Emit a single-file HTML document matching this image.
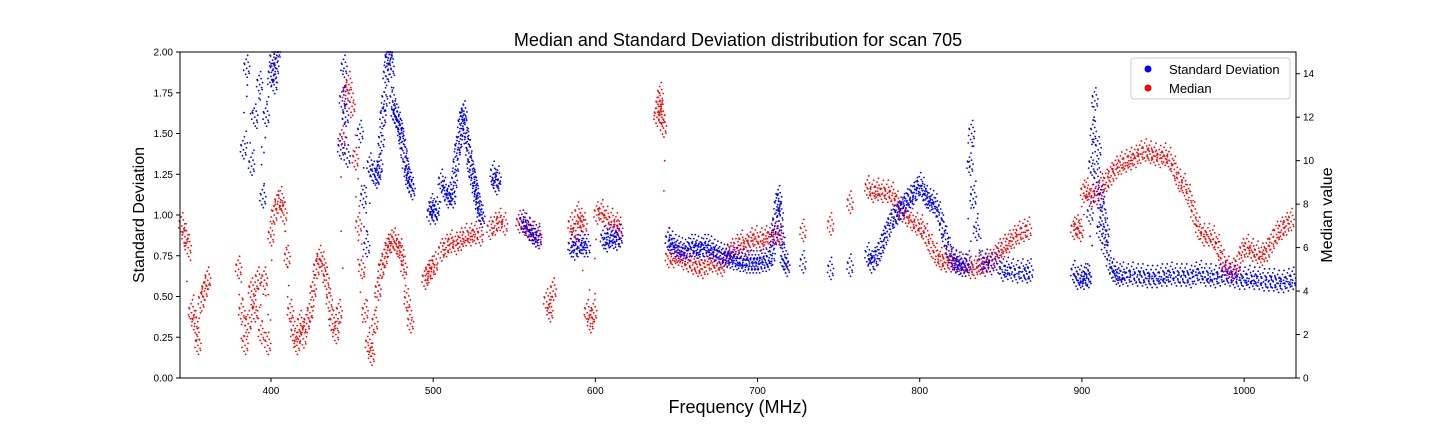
<!DOCTYPE html>
<html><head><meta charset="utf-8"><style>
body{margin:0;background:#fff;}
svg text{font-family:"Liberation Sans",sans-serif;}
</style></head><body>
<svg id="chart" width="1440" height="432" xmlns="http://www.w3.org/2000/svg">
<rect width="1440" height="432" fill="#fff"/>
<text x="738" y="46" font-size="18" text-anchor="middle">Median and Standard Deviation distribution for scan 705</text>
<text x="738" y="413" font-size="18" text-anchor="middle">Frequency (MHz)</text>
<text transform="translate(144,215) rotate(-90)" font-size="16" text-anchor="middle">Standard Deviation</text>
<text transform="translate(1332,215) rotate(-90)" font-size="16" text-anchor="middle">Median value</text>
<g id="marks"></g>
<g id="axes"></g>
<g>
<rect x="1131" y="58" width="159" height="41" rx="3" fill="#fff" fill-opacity="0.8" stroke="#ccc"/>
<circle cx="1148" cy="69" r="3.5" fill="#0000ff"/>
<text x="1169" y="74" font-size="13">Standard Deviation</text>
<circle cx="1148" cy="88" r="3.5" fill="#ff0000"/>
<text x="1169" y="93" font-size="13">Median</text>
</g>
</svg>
<script>
const xTicks=[400,500,600,700,800,900,1000];
const yLeftTicks=[0,0.25,0.5,0.75,1,1.25,1.5,1.75,2];
const yRightTicks=[0,2,4,6,8,10,12,14];
const stdFreq=[383,385,388,390,393,395,397,400,401,402,403,404,443,444,445,446,447,455,457,459,461,463,465,466,467,468,469,470,471,472,473,474,475,476,477,478,479,480,481,482,483,484,485,486,487,498,499,500,501,502,505,507,509,510,512,513,514,515,516,517,518,519,520,521,522,523,524,525,526,527,528,529,530,537,538,539,540,555,557,559,561,563,565,585,587,589,591,593,595,605,607,609,611,613,615,645,647,649,651,653,655,657,659,661,663,665,667,669,671,673,675,677,679,681,683,685,687,689,691,693,695,697,699,701,703,705,707,709,710,711,712,713,714,715,716,717,718,728,745,757,768,770,772,774,776,778,780,782,784,786,788,790,792,794,796,798,800,802,804,806,808,810,812,814,816,818,820,822,824,826,828,830,831,832,833,835,838,841,844,848,851,854,857,860,863,866,868,895,897,899,901,903,904,905,906,907,908,909,910,911,912,913,914,915,917,919,921,923,925,928,931,934,937,940,943,946,949,952,955,958,961,964,967,970,973,976,979,982,985,988,991,994,997,1000,1003,1006,1009,1012,1015,1018,1021,1024,1027,1030];
const stdVal=[1.4,1.9,1.3,1.6,1.8,1.1,1.6,1.85,1.95,1.8,1.9,2.0,1.4,1.7,1.9,1.6,1.35,1.5,1.1,0.8,1.3,1.25,1.22,1.25,1.3,1.45,1.6,1.7,1.85,1.95,2.0,1.9,1.7,1.62,1.6,1.58,1.55,1.5,1.45,1.38,1.3,1.25,1.2,1.18,1.15,1.0,1.05,1.02,1.0,1.03,1.2,1.15,1.1,1.12,1.1,1.2,1.3,1.4,1.45,1.55,1.6,1.62,1.5,1.45,1.38,1.3,1.25,1.2,1.15,1.1,1.05,1.0,0.98,1.25,1.2,1.18,1.22,0.95,0.93,0.9,0.88,0.86,0.85,0.8,0.78,0.8,0.82,0.8,0.8,0.85,0.83,0.86,0.85,0.84,0.86,0.84,0.82,0.8,0.79,0.78,0.77,0.78,0.8,0.8,0.79,0.78,0.8,0.8,0.79,0.77,0.76,0.75,0.74,0.74,0.73,0.72,0.72,0.71,0.71,0.7,0.7,0.7,0.7,0.7,0.71,0.71,0.72,0.75,0.85,0.95,1.05,1.1,1.0,0.85,0.72,0.7,0.68,0.7,0.66,0.68,0.75,0.7,0.72,0.75,0.8,0.85,0.9,0.95,0.98,1.0,1.03,1.05,1.08,1.1,1.12,1.15,1.18,1.15,1.1,1.08,1.07,1.05,1.0,0.92,0.85,0.78,0.72,0.7,0.69,0.68,0.68,0.7,1.3,1.5,1.1,0.9,0.7,0.71,0.69,0.7,0.65,0.66,0.65,0.64,0.65,0.64,0.65,0.64,0.6,0.61,0.6,0.62,0.61,1.0,1.3,1.5,1.7,1.2,1.4,0.9,1.1,1.0,0.8,0.9,0.7,0.65,0.63,0.62,0.63,0.62,0.63,0.62,0.62,0.61,0.61,0.61,0.62,0.62,0.63,0.62,0.62,0.62,0.61,0.63,0.64,0.62,0.62,0.61,0.62,0.63,0.62,0.61,0.6,0.6,0.61,0.6,0.6,0.59,0.59,0.59,0.58,0.58,0.59,0.6];
const medFreq=[345,347,349,351,353,355,357,359,361,380,382,384,386,388,390,392,394,396,398,400,402,404,406,408,410,412,414,416,418,420,422,424,426,428,430,432,434,436,438,440,442,444,446,448,450,452,454,456,458,460,462,464,466,468,470,472,474,476,478,480,482,484,486,495,497,499,501,505,508,511,514,517,520,523,526,529,535,538,541,544,553,556,559,562,565,570,572,574,585,587,589,591,593,595,597,599,601,604,607,610,613,615,638,639,640,641,642,645,648,651,654,657,660,663,666,669,672,675,678,681,684,687,690,693,696,699,702,705,708,711,714,728,745,757,768,771,774,777,780,783,786,789,792,795,798,801,804,807,810,813,816,819,822,825,828,831,834,837,840,843,846,849,852,855,858,861,864,867,895,897,899,901,903,906,909,912,915,918,921,924,927,930,933,936,939,942,945,948,951,954,957,960,963,966,969,972,975,978,981,984,987,990,993,996,999,1002,1005,1008,1011,1014,1017,1020,1023,1026,1029];
const medVal=[7,6.5,6,3,2.5,1.5,3.5,4,4.5,5,3,1.5,2.5,4,3,4.5,2,4.5,1.5,6.5,7.5,8,8.2,7.5,5.5,3,2,1.5,2.5,1.8,2.5,3,4,5,5.5,5.2,4.5,3.5,2.5,2,3,11,13,13.5,12.5,10,7,5,3,1.5,1,2.5,4,5,5.5,6,6.2,6.3,6,5.8,5,3.5,2.5,4.5,4.8,5,5.2,5.8,6,6.2,6.1,6.3,6.5,6.5,6.6,6.5,6.8,7,7.2,7,7.1,7,6.8,6.6,6.5,3.5,3,4,7,6.5,7.5,7.2,7,3,2.5,3,7.5,7.6,7.3,7.2,7,6.8,12,12.5,13,12,11.5,5.5,5.5,5.6,5.4,5.3,5.2,5.1,5,5.2,5.3,5.2,5.1,5.5,5.8,6,6.2,6,6.3,6.4,6.3,6.4,6.5,6.6,6.4,6.7,7,8,8.7,8.5,8.6,8.5,8.5,8.4,8.0,7.6,7.4,7.2,7.0,6.9,6.5,6.0,5.6,5.4,5.3,5.3,5.3,5.2,5.1,5.0,5.0,5.2,5.1,5.3,5.5,5.8,6.0,6.2,6.4,6.6,6.7,6.8,6.8,6.9,6.7,8.5,8.6,8.3,8.4,8.8,9.0,9.3,9.6,9.8,9.9,10,10.1,10.3,10.4,10.3,10.2,10.1,10.2,10.0,9.6,9.0,8.8,8.3,7.5,6.8,6.5,6.5,6.4,6.0,5.3,5.0,4.9,5.2,5.8,6.0,5.8,5.7,5.6,5.8,6.2,6.6,6.8,7.0,7.2,7.4,7.6,7.9,8.1,8.4];

const NS="http://www.w3.org/2000/svg";
const L=180,R=1296,T=52,B=378,XMIN=343.9,XMAX=1032;
function xs(f){return L+(f-XMIN)/(XMAX-XMIN)*(R-L);}
function yl(v){return B-v/2*(B-T);}
function yr(v){return B-v/15*(B-T);}
const marks=document.getElementById('marks');
const tuft=[[0,0],[-2,-4],[2,3],[-1,6],[1.5,-6],[-3,2],[3,-2],[0.5,9],[-0.5,-9],[2.5,5],[-2.5,-5],[1,-13]];
function dots(fs,vs,scale,color,name){
  const g=document.createElementNS(NS,'g');
  
  
  for(let i=0;i<fs.length;i++){
    const cx=xs(fs[i]),cy=scale(vs[i]);
    if(i>0&&fs[i]-fs[i-1]<=3.5){
      const px=xs(fs[i-1]),py=scale(vs[i-1]);
      for(let k=1;k<4;k++){
        const t=tuft[(i+k)%9];
        const c=document.createElementNS(NS,'circle');
        c.setAttribute('cx',px+(cx-px)*k/4+t[0]);
        c.setAttribute('cy',Math.max(T,Math.min(B,py+(cy-py)*k/4+t[1]*0.6)));
        c.setAttribute('r',0.9);c.setAttribute('fill',color);g.appendChild(c);
      }
    }
    for(const t of tuft){
      const c=document.createElementNS(NS,'circle');
      c.setAttribute('cx',cx+t[0]);c.setAttribute('cy',Math.max(T,Math.min(B,cy+t[1])));
      c.setAttribute('r',0.9);c.setAttribute('fill',color);
      
      g.appendChild(c);
    }
  }
  marks.appendChild(g);
}
dots(medFreq,medVal,yr,'#ff0000','median-series');
dots(stdFreq,stdVal,yl,'#0000ff','std-series');
const ax=document.getElementById('axes');
function el(tag,attrs,txt){const e=document.createElementNS(NS,tag);for(const k in attrs)e.setAttribute(k,attrs[k]);if(txt!==undefined)e.textContent=txt;ax.appendChild(e);return e;}
const frame=el('rect',{x:L,y:T,width:R-L,height:B-T,fill:'none',stroke:'#000','stroke-width':1});


xTicks.forEach(t=>{const x=xs(t);el('line',{x1:x,x2:x,y1:B,y2:B+4,stroke:'#000'});
 const tx=el('text',{x:x,y:B+16,'font-size':10,'text-anchor':'middle'},t);
 
 });
yLeftTicks.forEach(t=>{const y=yl(t);el('line',{x1:L-4,x2:L,y1:y,y2:y,stroke:'#000'});
 const tx=el('text',{x:L-7,y:y+3.5,'font-size':10,'text-anchor':'end'},t.toFixed(2));
 
 });
yRightTicks.forEach(t=>{const y=yr(t);el('line',{x1:R,x2:R+4,y1:y,y2:y,stroke:'#000'});
 const tx=el('text',{x:R+7,y:y+3.5,'font-size':10},t);
 
 });
</script>
</body></html>
